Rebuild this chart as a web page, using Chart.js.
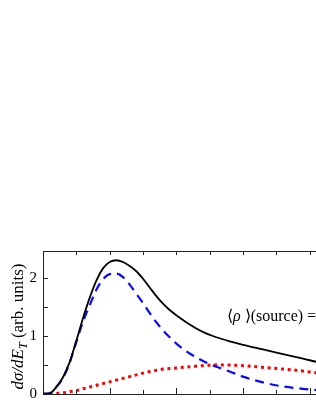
<!DOCTYPE html>
<html>
<head>
<meta charset="utf-8">
<script src="https://cdn.jsdelivr.net/npm/chart.js@4"></script>
<style>
html,body{margin:0;padding:0;background:#fff;overflow:hidden;width:316px;height:409px;}
#wrap{position:absolute;left:0;top:0;width:316px;height:409px;overflow:hidden;}
canvas{position:absolute;left:0;top:0;}
</style>
</head>
<body>
<div id="wrap"><canvas id="c" width="350" height="409"></canvas></div>
<script>
// ---- data (x in axis units, one major tick = 1) ----
const xTotal = [0, 0.1, 0.2, 0.3, 0.4, 0.5, 0.6, 0.7, 0.8, 0.9, 1.0, 1.1, 1.2, 1.3, 1.4, 1.5, 1.6, 1.7, 1.8, 1.9, 2.0, 2.2, 2.4, 2.6, 2.8, 3.0, 3.3, 3.6, 3.9, 4.2, 4.5];
const yTotal = [0, 0.01, 0.12, 0.29, 0.55, 0.92, 1.31, 1.66, 1.96, 2.17, 2.28, 2.31, 2.28, 2.21, 2.12, 1.99, 1.84, 1.69, 1.56, 1.45, 1.36, 1.20, 1.07, 0.98, 0.91, 0.85, 0.77, 0.69, 0.61, 0.53, 0.46];

const xBlue = [0, 0.1, 0.2, 0.3, 0.4, 0.5, 0.6, 0.7, 0.8, 0.9, 1.0, 1.1, 1.2, 1.3, 1.4, 1.5, 1.6, 1.7, 1.8, 1.9, 2.0, 2.2, 2.4, 2.6, 2.8, 3.0, 3.3, 3.6, 3.9, 4.2, 4.5];
const yBlue = [0, 0.01, 0.12, 0.28, 0.54, 0.90, 1.25, 1.53, 1.80, 1.98, 2.07, 2.08, 2.02, 1.89, 1.73, 1.57, 1.40, 1.24, 1.10, 0.98, 0.87, 0.70, 0.57, 0.47, 0.39, 0.30, 0.20, 0.13, 0.09, 0.06, 0.04];

const xRed = [0, 0.1, 0.2, 0.3, 0.4, 0.5, 0.6, 0.7, 0.8, 0.9, 1.0, 1.1, 1.2, 1.3, 1.4, 1.5, 1.6, 1.7, 1.8, 1.9, 2.0, 2.2, 2.4, 2.6, 2.8, 3.0, 3.2, 3.4, 3.6, 3.8, 4.0, 4.2, 4.5];
const yRed = [0, 0.0, 0.01, 0.02, 0.04, 0.06, 0.09, 0.12, 0.15, 0.18, 0.21, 0.24, 0.27, 0.30, 0.33, 0.36, 0.39, 0.41, 0.43, 0.44, 0.45, 0.47, 0.49, 0.50, 0.50, 0.49, 0.47, 0.45, 0.43, 0.41, 0.38, 0.35, 0.31];

const xMin = 0, xMax = 4.5, xMajor = 1, xMinor = 0.5;
const yMin = 0, yMax = 2.47, yStep = 0.5;
const yTitleMain = "dσ/dE", yTitleSub = "T", yTitleRest = " (arb. units)";
const noteText = ["⟨", "ρ", " ⟩(source) ="];
const notePos = {x: 2.76, y: 1.26};

const toPts = (xs, ys) => xs.map((x, i) => ({x: x, y: ys[i]}));
const SERIF = "'Liberation Serif','Times New Roman',serif";

const frame = {
  id: 'frame',
  afterDraw(chart) {
    const {ctx, chartArea: a, scales: {x, y}} = chart;
    ctx.save();
    ctx.strokeStyle = '#222';
    ctx.lineWidth = 1;
    ctx.strokeRect(Math.round(a.left) + 0.5, Math.round(a.top) + 0.5, Math.round(a.right - a.left), Math.round(a.bottom - a.top));
    ctx.beginPath();
    for (let v = xMin; v <= xMax + 1e-9; v += xMinor) {
      const px = Math.round(x.getPixelForValue(v)) + 0.5;
      const major = Math.abs(v / xMajor - Math.round(v / xMajor)) < 1e-6;
      const lb = major ? 6 : 4;
      ctx.moveTo(px, a.bottom); ctx.lineTo(px, a.bottom - lb);
      ctx.moveTo(px, a.top); ctx.lineTo(px, a.top + 4);
    }
    for (let v = yMin; v <= yMax + 1e-9; v += yStep) {
      const py = Math.round(y.getPixelForValue(v)) + 0.5;
      ctx.moveTo(a.left, py); ctx.lineTo(a.left + 5, py);
    }
    ctx.stroke();

    const fMain = "italic 17px " + SERIF, fSub = "italic 12px " + SERIF, fRest = "17px " + SERIF;
    ctx.font = fMain; const w1 = ctx.measureText(yTitleMain).width;
    ctx.font = fSub; const w2 = ctx.measureText(yTitleSub).width;
    ctx.font = fRest; const w3 = ctx.measureText(yTitleRest).width;
    const total = w1 + w2 + w3;
    const cy = (a.top + a.bottom) / 2 + 4;
    ctx.translate(23, cy);
    ctx.rotate(-Math.PI / 2);
    ctx.fillStyle = '#000';
    ctx.textBaseline = 'alphabetic';
    let cx = -total / 2;
    ctx.font = fMain; ctx.fillText(yTitleMain, cx, 0); cx += w1;
    ctx.font = fSub; ctx.fillText(yTitleSub, cx, 4); cx += w2;
    ctx.font = fRest; ctx.fillText(yTitleRest, cx, 0);
    ctx.restore();

    ctx.save();
    ctx.fillStyle = '#000';
    ctx.textBaseline = 'alphabetic';
    let tx = x.getPixelForValue(notePos.x);
    const ty = y.getPixelForValue(notePos.y);
    const fonts = ["16px " + SERIF, "italic 16px " + SERIF, "16px " + SERIF];
    noteText.forEach((t, i) => {
      ctx.font = fonts[i];
      ctx.fillText(t, tx, ty);
      tx += ctx.measureText(t).width;
    });
    ctx.restore();
  }
};

new Chart(document.getElementById('c'), {
  type: 'line',
  data: {
    datasets: [
      {data: toPts(xTotal, yTotal), borderColor: '#000', borderWidth: 1.8, pointRadius: 0, cubicInterpolationMode: 'monotone', fill: false},
      {data: toPts(xBlue, yBlue), borderColor: '#0a0aff', borderWidth: 2.2, borderDash: [9, 6], pointRadius: 0, cubicInterpolationMode: 'monotone', fill: false},
      {data: toPts(xRed, yRed), borderColor: '#ff0000', borderWidth: 3, borderDash: [3, 3.7], pointRadius: 0, cubicInterpolationMode: 'monotone', fill: false}
    ]
  },
  options: {
    responsive: false,
    animation: false,
    events: [],
    layout: {padding: {left: 0, right: 7, top: 251, bottom: 11}},
    plugins: {legend: {display: false}, tooltip: {enabled: false}, title: {display: false}},
    scales: {
      x: {
        type: 'linear', min: xMin, max: xMax,
        grid: {display: false, drawTicks: false, tickLength: 0},
        border: {display: false},
        ticks: {display: false},
        afterFit(s) { s.height = 0; }
      },
      y: {
        type: 'linear', min: yMin, max: yMax,
        grid: {display: false, drawTicks: false, tickLength: 0},
        border: {display: false},
        ticks: {
          stepSize: yStep, padding: 6, color: '#000', autoSkip: false,
          font: {family: SERIF, size: 15},
          callback: (v) => (Math.abs(v - Math.round(v)) < 1e-6 ? String(Math.round(v)) : '')
        },
        afterFit(s) { s.width = 43; }
      }
    }
  },
  plugins: [frame]
});
</script>
</body>
</html>
